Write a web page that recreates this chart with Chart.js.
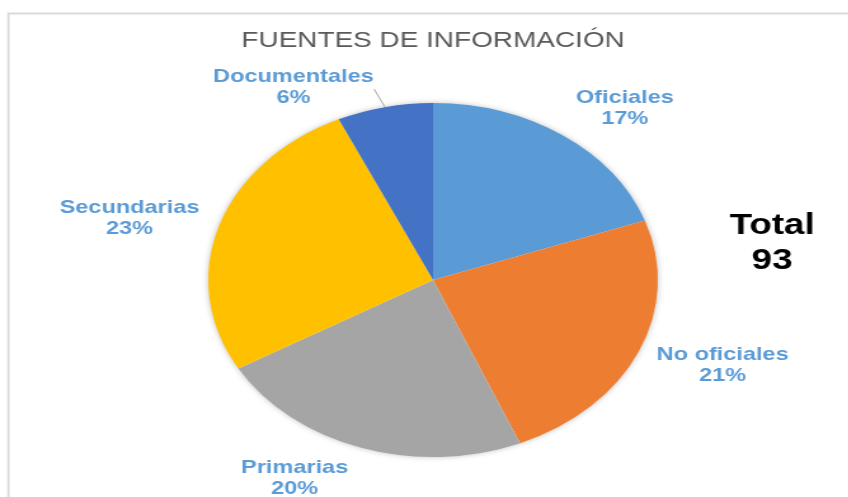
<!DOCTYPE html>
<html lang="es">
<head>
    <meta charset="UTF-8">
    <title>Fuentes de información</title>
    <script src="https://cdn.jsdelivr.net/npm/chart.js"></script>
    <style>
        body { margin: 0; background: #fff; overflow: hidden; }
        /* the original picture is stretched horizontally, so draw narrow and stretch */
        #wrap { width: 668px; height: 497px; transform: scaleX(1.27); transform-origin: 0 0; }
    </style>
</head>
<body>
    <div id="wrap"><canvas id="myChart" width="668" height="497"></canvas></div>

    <script>
        // datos
        var categorias = ['Oficiales', 'No oficiales', 'Primarias', 'Secundarias', 'Documentales'];
        var porcentajes = [17, 21, 20, 23, 6];
        var colores = ['#5B9BD5', '#ED7D31', '#A5A5A5', '#FFC000', '#4472C4'];
        var titulo = 'FUENTES DE INFORMACIÓN';
        var total = 93;

        // where each label sits (unstretched coordinates)
        var posEtiquetas = {
            'Oficiales': [492, 98],
            'No oficiales': [569, 355],
            'Primarias': [232, 468],
            'Secundarias': [102, 208],
            'Documentales': [231, 77]
        };

        var fuente = '"Liberation Sans", Arial, sans-serif';

        var adornos = {
            id: 'adornos',
            beforeDatasetsDraw: function(chart) {
                var ctx = chart.ctx;
                var arc = chart.getDatasetMeta(0).data[0];
                // soft shadow under the pie
                ctx.save();
                ctx.shadowColor = 'rgba(0,0,0,0.35)';
                ctx.shadowBlur = 6;
                ctx.fillStyle = '#fff';
                ctx.beginPath();
                ctx.arc(arc.x, arc.y, arc.outerRadius - 1, 0, Math.PI * 2);
                ctx.fill();
                ctx.restore();
            },
            afterDraw: function(chart) {
                var ctx = chart.ctx;
                ctx.save();
                // marco
                ctx.strokeStyle = '#D9D9D9';
                ctx.lineWidth = 1.8;
                ctx.beginPath();
                ctx.moveTo(6.6, 600);
                ctx.lineTo(6.6, 13.5);
                ctx.lineTo(700, 13.5);
                ctx.stroke();

                // titulo
                ctx.textAlign = 'center';
                ctx.textBaseline = 'middle';
                ctx.fillStyle = '#595959';
                ctx.font = '22px ' + fuente;
                ctx.fillText(titulo, 341, 41);

                // etiquetas
                ctx.fillStyle = '#5B9BD5';
                ctx.font = 'bold 18.5px ' + fuente;
                categorias.forEach(function(c, i) {
                    var p = posEtiquetas[c];
                    ctx.fillText(c, p[0], p[1]);
                    ctx.fillText(porcentajes[i] + '%', p[0], p[1] + 21);
                });

                // linea guia de Documentales
                ctx.strokeStyle = '#A6A6A6';
                ctx.lineWidth = 1;
                ctx.beginPath();
                ctx.moveTo(294.5, 89);
                ctx.lineTo(303, 107);
                ctx.stroke();

                // total
                ctx.fillStyle = '#000';
                ctx.font = 'bold 29px ' + fuente;
                ctx.fillText('Total', 608, 226);
                ctx.fillText(String(total), 608, 261);
                ctx.restore();
            }
        };

        var ctx = document.getElementById('myChart').getContext('2d');
        var myChart = new Chart(ctx, {
            type: 'pie',
            data: {
                labels: categorias,
                datasets: [{
                    data: porcentajes,
                    backgroundColor: colores,
                    borderWidth: 0
                }]
            },
            options: {
                responsive: false,
                animation: false,
                layout: { padding: { top: 103, bottom: 40, left: 164, right: 150 } },
                plugins: {
                    legend: { display: false },
                    tooltip: { enabled: false }
                }
            },
            plugins: [adornos]
        });
    </script>
</body>
</html>
